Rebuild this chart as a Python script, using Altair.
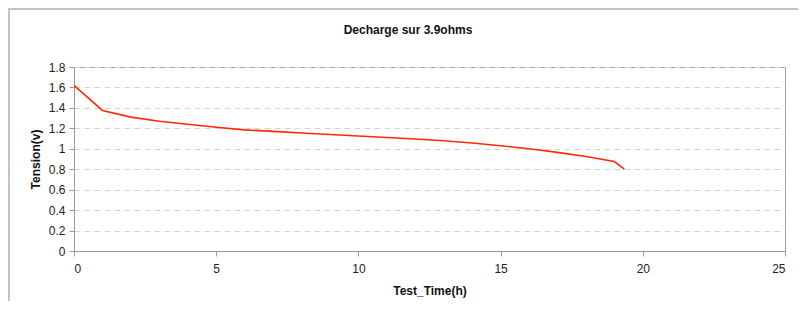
import altair as alt
import pandas as pd

hours = [0, 1, 2, 3, 4, 5, 6, 7, 8, 9, 10, 11, 12, 13, 14, 15, 16, 17, 18, 19, 19.35]
tension = [1.62, 1.375, 1.31, 1.27, 1.24, 1.21, 1.185, 1.17, 1.155, 1.14, 1.125,
           1.11, 1.095, 1.078, 1.056, 1.03, 1.0, 0.965, 0.925, 0.875, 0.80]
x_ticks = [0, 5, 10, 15, 20, 25]
y_ticks = [0, 0.2, 0.4, 0.6, 0.8, 1.0, 1.2, 1.4, 1.6, 1.8]
title_text = ["Decharge sur 3.9ohms"]

df = pd.DataFrame({"Test_Time(h)": hours, "Tension(v)": tension})
one = pd.DataFrame({"label": title_text})

FONT = "Liberation Sans"

line = alt.Chart(df).mark_line(color="#ff2a00", strokeWidth=1.6).encode(
    x=alt.X("Test_Time(h):Q",
            scale=alt.Scale(domain=[0, 25], nice=False),
            axis=alt.Axis(values=x_ticks, grid=False, format="d",
                          title="Test_Time(h)")),
    y=alt.Y("Tension(v):Q",
            scale=alt.Scale(domain=[0, 1.8], nice=False),
            axis=alt.Axis(values=y_ticks, format=".1~f", grid=True,
                          gridDash=[6, 4], gridColor="#d4d4d4",
                          title="Tension(v)")),
)

frame_left = alt.Chart(one).mark_rule(color="#c4c4c4", strokeWidth=2).encode(
    x=alt.value(-65), y=alt.value(-58), y2=alt.value(250))
frame_top = alt.Chart(one).mark_rule(color="#c4c4c4", strokeWidth=2).encode(
    x=alt.value(-66), x2=alt.value(735), y=alt.value(-58))

title = alt.Chart(one).mark_text(
    font=FONT, fontSize=12, fontWeight="bold", color="#111",
    align="center", baseline="middle",
).encode(x=alt.value(334), y=alt.value(-37), text="label:N")

chart = alt.layer(frame_left, frame_top, line, title).properties(
    width=711,
    height=184,
    autosize=alt.AutoSizeParams(type="none"),
    padding={"left": 66, "top": 59, "right": 13, "bottom": 50},
).configure_view(
    stroke="#a0a0a0", strokeWidth=1
).configure_axis(
    labelFont=FONT, labelFontSize=12, labelColor="#222",
    titleFont=FONT, titleFontSize=12, titleFontWeight="bold", titleColor="#111",
    domainColor="#9a9a9a", tickColor="#9a9a9a", tickSize=5,
).configure_axisX(
    labelPadding=7, titlePadding=11,
).configure_axisY(
    labelPadding=4, titlePadding=6,
)

chart.save("out.html", embed_options={"renderer": "svg", "actions": False})
